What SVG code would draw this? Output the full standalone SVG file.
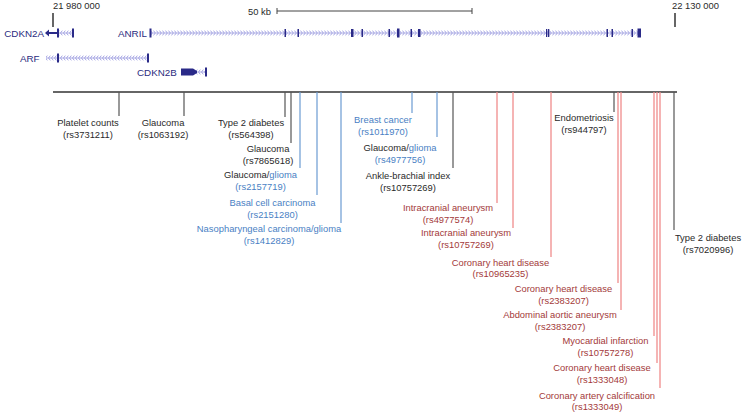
<svg xmlns="http://www.w3.org/2000/svg" width="742" height="412" viewBox="0 0 742 412">
<style>
text{font-family:"Liberation Sans",Arial,sans-serif;font-size:9.4px;text-anchor:middle}
.tg{fill:#2a2a2a}.tb{fill:#4a7fc4}.tr{fill:#a33a3a}.gn{fill:#2b2b7e;text-anchor:start;font-size:9.8px}
.ax{stroke:#333;stroke-width:1.5}
.lg{stroke:#555;stroke-width:1.2}
.lb{stroke:#6b9bd2;stroke-width:1.2}
.lr{stroke:#f08c8c;stroke-width:1.3}
.ex{fill:#2a2a88}
.in{stroke:#a0a0e0;stroke-width:0.8}
</style>
<defs>
<pattern id="fw" width="3" height="6" y="-3" patternUnits="userSpaceOnUse"><path d="M0.5,0.6 L2.3,3 L0.5,5.4" fill="none" stroke="#9c9ce0" stroke-width="0.9"/></pattern>
<pattern id="rv" width="3" height="6" y="-3" patternUnits="userSpaceOnUse"><path d="M2.3,0.6 L0.5,3 L2.3,5.4" fill="none" stroke="#9c9ce0" stroke-width="0.9"/></pattern>
</defs>
<rect width="742" height="412" fill="#fff"/>

<g id="scale">
<text class="tg" x="53" y="8.5" style="text-anchor:start">21 980 000</text>
<line class="ax" x1="53" y1="13" x2="53" y2="27"/>
<text class="tg" x="672" y="8.5" style="text-anchor:start">22 130 000</text>
<line class="ax" x1="675" y1="13" x2="675" y2="27"/>
<text class="tg" x="248" y="14.5" style="text-anchor:start">50 kb</text>
<path d="M277,11 H472 M277,8 V14 M472,8 V14" stroke="#444" stroke-width="1"/>
</g>

<g id="g-cdkn2a" transform="translate(0,33)">
<text class="gn" x="44" y="3.5" style="text-anchor:end">CDKN2A</text>
<rect x="59" y="-3" width="13" height="6" fill="url(#rv)"/>
<line class="in" x1="59" y1="0" x2="72" y2="0"/>
<path class="ex" d="M45,0 L49,-3.5 V3.5 Z"/>
<rect class="ex" x="48" y="-1" width="10" height="2"/>
<rect class="ex" x="57" y="-4.5" width="2" height="9"/>
<rect class="ex" x="72" y="-4.5" width="2" height="9"/>
</g>

<g id="g-arf" transform="translate(0,58)">
<text class="gn" x="20" y="3.5">ARF</text>
<rect x="46" y="-3" width="101" height="6" fill="url(#rv)"/>
<line class="in" x1="46" y1="0" x2="147" y2="0"/>
<rect class="ex" x="57" y="-4.5" width="2" height="9"/>
<rect class="ex" x="147" y="-4.5" width="2" height="9"/>
</g>

<g id="g-anril" transform="translate(0,33)">
<text class="gn" x="118" y="3.5">ANRIL</text>
<rect x="151" y="-3" width="488" height="6" fill="url(#fw)"/>
<line class="in" x1="151" y1="0" x2="639" y2="0"/>
<rect class="ex" x="149.5" y="-4.5" width="2" height="9"/>
<rect class="ex" x="284.5" y="-4" width="1.5" height="8"/>
<rect class="ex" x="297.5" y="-4" width="1.5" height="8"/>
<rect class="ex" x="351" y="-4" width="2.5" height="8"/>
<rect class="ex" x="361.5" y="-4" width="1.5" height="8"/>
<rect class="ex" x="388.5" y="-4" width="1.5" height="8"/>
<rect class="ex" x="397" y="-4.5" width="2.5" height="9"/>
<rect class="ex" x="410.5" y="-4" width="1.5" height="8"/>
<rect class="ex" x="418" y="-4" width="2.5" height="8"/>
<rect class="ex" x="546" y="-4" width="1.3" height="8"/>
<rect class="ex" x="548" y="-4" width="1.3" height="8"/>
<rect class="ex" x="606.5" y="-4" width="1.5" height="8"/>
<rect class="ex" x="611.5" y="-4" width="1.5" height="8"/>
<rect class="ex" x="631.5" y="-4" width="1.5" height="8"/>
<rect class="ex" x="637.5" y="-4.5" width="3.5" height="9"/>
</g>

<g id="g-cdkn2b" transform="translate(0,72)">
<text class="gn" x="137" y="3.5">CDKN2B</text>
<rect x="196" y="-3" width="9" height="6" fill="url(#rv)"/>
<line class="in" x1="196" y1="0" x2="205" y2="0"/>
<rect class="ex" x="181" y="-3.5" width="12" height="7"/>
<path class="ex" d="M193,-3.5 L197,-1 V1 L193,3.5 Z"/>
<rect class="ex" x="205" y="-4.5" width="2" height="9"/>
</g>

<g id="connectors">
<line class="ax" x1="53" y1="92" x2="677" y2="92"/>
<line class="lg" x1="119" y1="92" x2="119" y2="116"/>
<line class="lg" x1="184" y1="92" x2="184" y2="116"/>
<line class="lg" x1="285" y1="92" x2="285" y2="117"/>
<line class="lg" x1="291" y1="92" x2="291" y2="143"/>
<line class="lb" x1="300" y1="92" x2="300" y2="168"/>
<line class="lb" x1="317" y1="92" x2="317" y2="195"/>
<line class="lb" x1="341" y1="92" x2="341" y2="223"/>
<line class="lb" x1="412" y1="92" x2="412" y2="113"/>
<line class="lb" x1="437" y1="92" x2="437" y2="137"/>
<line class="lg" x1="453" y1="92" x2="453" y2="168"/>
<line class="lr" x1="497" y1="92" x2="497" y2="203"/>
<line class="lr" x1="513" y1="92" x2="513" y2="228"/>
<line class="lr" x1="551" y1="92" x2="551" y2="257"/>
<line class="lg" x1="614" y1="92" x2="614" y2="112"/>
<line class="lr" x1="618" y1="92" x2="618" y2="283"/>
<line class="lr" x1="621" y1="92" x2="621" y2="310"/>
<line class="lr" x1="654" y1="92" x2="654" y2="336"/>
<line class="lr" x1="657" y1="92" x2="657" y2="363"/>
<line class="lr" x1="660" y1="92" x2="660" y2="388"/>
<line class="lg" x1="674" y1="92" x2="674" y2="230"/>
</g>

<g id="n1"><text class="tg" x="88" y="126.4">Platelet counts</text><text class="tg" x="88" y="137.9">(rs3731211)</text></g>
<g id="n2"><text class="tg" x="163" y="126.4">Glaucoma</text><text class="tg" x="163" y="137.9">(rs1063192)</text></g>
<g id="n3"><text class="tg" x="251" y="126.4">Type 2 diabetes</text><text class="tg" x="251" y="137.9">(rs564398)</text></g>
<g id="n4"><text class="tg" x="268" y="152.4">Glaucoma</text><text class="tg" x="268" y="163.9">(rs7865618)</text></g>
<g id="n5"><text class="tg" x="260.5" y="178.4">Glaucoma/<tspan class="tb">glioma</tspan></text><text class="tb" x="260.5" y="189.9">(rs2157719)</text></g>
<g id="n6"><text class="tb" x="272.5" y="206.4">Basal cell carcinoma</text><text class="tb" x="272.5" y="217.9">(rs2151280)</text></g>
<g id="n7"><text class="tb" x="269" y="232.4">Nasopharyngeal carcinoma/glioma</text><text class="tb" x="269" y="243.9">(rs1412829)</text></g>
<g id="n8"><text class="tb" x="383" y="123.4">Breast cancer</text><text class="tb" x="383" y="134.9">(rs1011970)</text></g>
<g id="n9"><text class="tg" x="400" y="151.1">Glaucoma/<tspan class="tb">glioma</tspan></text><text class="tb" x="400" y="162.6">(rs4977756)</text></g>
<g id="n10"><text class="tg" x="408" y="179.4">Ankle-brachial index</text><text class="tg" x="408" y="190.9">(rs10757269)</text></g>
<g id="n11"><text class="tr" x="448" y="211.4">Intracranial aneurysm</text><text class="tr" x="448" y="222.9">(rs4977574)</text></g>
<g id="n12"><text class="tr" x="466" y="236.4">Intracranial aneurysm</text><text class="tr" x="466" y="247.9">(rs10757269)</text></g>
<g id="n13"><text class="tr" x="500.5" y="266.4">Coronary heart disease</text><text class="tr" x="500.5" y="277.4">(rs10965235)</text></g>
<g id="n14"><text class="tr" x="563.5" y="292.4">Coronary heart disease</text><text class="tr" x="563.5" y="303.9">(rs2383207)</text></g>
<g id="n15"><text class="tr" x="560" y="318.4">Abdominal aortic aneurysm</text><text class="tr" x="560" y="329.9">(rs2383207)</text></g>
<g id="n16"><text class="tr" x="605.5" y="344.4">Myocardial infarction</text><text class="tr" x="605.5" y="355.9">(rs10757278)</text></g>
<g id="n17"><text class="tr" x="602" y="371.4">Coronary heart disease</text><text class="tr" x="602" y="382.9">(rs1333048)</text></g>
<g id="n18"><text class="tr" x="597" y="399">Coronary artery calcification</text><text class="tr" x="597" y="410.4">(rs1333049)</text></g>
<g id="n19"><text class="tg" x="584" y="121.4">Endometriosis</text><text class="tg" x="584" y="132.9">(rs944797)</text></g>
<g id="n20"><text class="tg" x="708" y="241.4">Type 2 diabetes</text><text class="tg" x="708" y="252.9">(rs7020996)</text></g>
</svg>
